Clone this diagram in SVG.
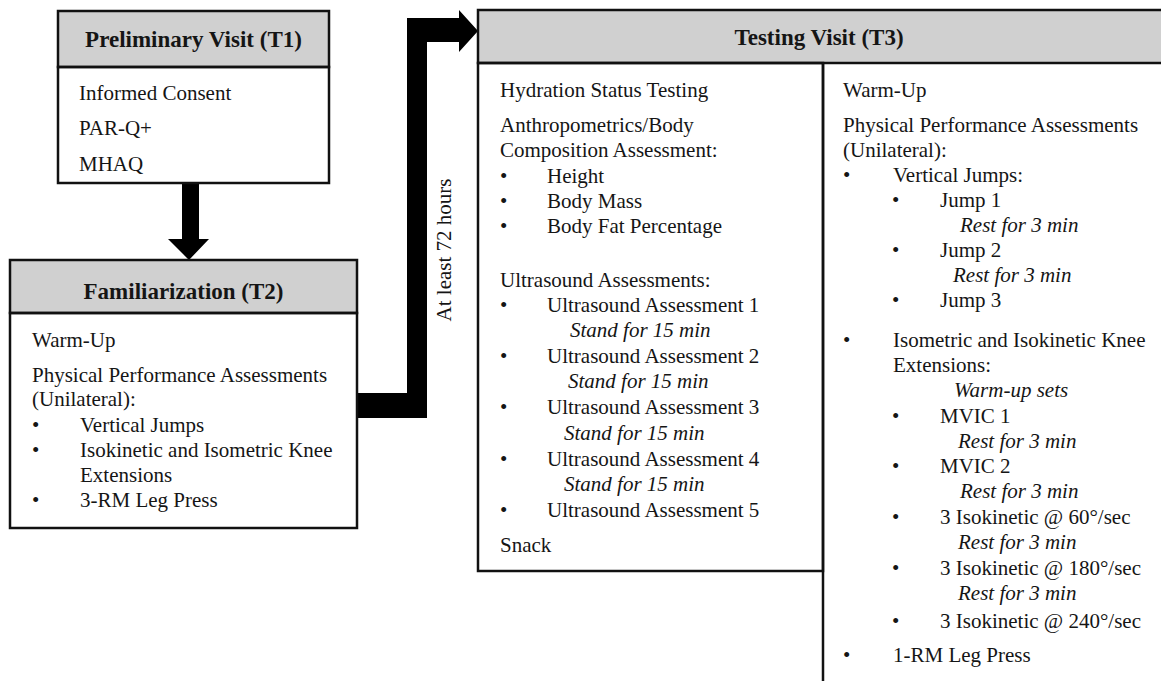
<svg xmlns="http://www.w3.org/2000/svg" width="1161" height="681" viewBox="0 0 1161 681">
<style>
.t{font-family:"Liberation Serif","Times New Roman",serif;font-size:21px;fill:#151515}
.i{font-style:italic}
.h{font-family:"Liberation Serif","Times New Roman",serif;font-size:23px;font-weight:bold;fill:#151515;text-anchor:middle}
.hd{fill:#d0d0d0;stroke:#111;stroke-width:2.5}
.bx{fill:none;stroke:#111;stroke-width:2.5}
.ln{stroke:#111;stroke-width:2.5;fill:none}
.arr{fill:#000;stroke:none}
</style>
<rect width="1161" height="681" fill="#fff"/>

<g id="connectors">
  <path class="arr" d="M182,183 L199,183 L199,239 L209,239 L189,260 L168,239 L182,239 Z"/>
  <path class="arr" d="M356,393 L407,393 L407,18 L459,18 L459,10 L478,31 L459,52 L459,42 L427,42 L427,418 L356,418 Z"/>
  <text class="t" font-size="21.5" transform="translate(451,250) rotate(-90)" text-anchor="middle">At least 72 hours</text>
</g>

<g id="t1">
  <rect class="hd" x="58" y="11" width="271" height="56"/>
  <rect class="bx" x="58" y="67" width="271" height="116"/>
  <text class="h" x="193.5" y="47">Preliminary Visit (T1)</text>
  <text class="t" x="79" y="100">Informed Consent</text>
  <text class="t" x="79" y="135">PAR-Q+</text>
  <text class="t" x="79" y="171">MHAQ</text>
</g>

<g id="t2">
  <rect class="hd" x="10" y="260" width="347" height="53"/>
  <rect class="bx" x="10" y="313" width="347" height="215"/>
  <text class="h" x="183.5" y="299">Familiarization (T2)</text>
  <text class="t" x="32" y="347">Warm-Up</text>
  <text class="t" x="32" y="382">Physical Performance Assessments</text>
  <text class="t" x="32" y="406">(Unilateral):</text>
  <text class="t" x="32" y="432">•</text><text class="t" x="80" y="432">Vertical Jumps</text>
  <text class="t" x="32" y="457">•</text><text class="t" x="80" y="457">Isokinetic and Isometric Knee</text>
  <text class="t" x="80" y="482">Extensions</text>
  <text class="t" x="32" y="507">•</text><text class="t" x="80" y="507">3-RM Leg Press</text>
</g>

<g id="t3">
  <rect class="hd" x="478" y="10" width="686" height="53"/>
  <rect class="bx" x="478" y="63" width="345" height="508"/>
  <line class="ln" x1="823" y1="63" x2="823" y2="684"/>
  <text class="h" x="819" y="45">Testing Visit (T3)</text>

  <text class="t" x="500" y="97">Hydration Status Testing</text>
  <text class="t" x="500" y="132">Anthropometrics/Body</text>
  <text class="t" x="500" y="157">Composition Assessment:</text>
  <text class="t" x="500" y="183">•</text><text class="t" x="547" y="183">Height</text>
  <text class="t" x="500" y="208">•</text><text class="t" x="547" y="208">Body Mass</text>
  <text class="t" x="500" y="233">•</text><text class="t" x="547" y="233">Body Fat Percentage</text>
  <text class="t" x="500" y="287">Ultrasound Assessments:</text>
  <text class="t" x="500" y="312">•</text><text class="t" x="547" y="312">Ultrasound Assessment 1</text>
  <text class="t i" x="570" y="337">Stand for 15 min</text>
  <text class="t" x="500" y="363">•</text><text class="t" x="547" y="363">Ultrasound Assessment 2</text>
  <text class="t i" x="568" y="388">Stand for 15 min</text>
  <text class="t" x="500" y="414">•</text><text class="t" x="547" y="414">Ultrasound Assessment 3</text>
  <text class="t i" x="564" y="440">Stand for 15 min</text>
  <text class="t" x="500" y="466">•</text><text class="t" x="547" y="466">Ultrasound Assessment 4</text>
  <text class="t i" x="564" y="491">Stand for 15 min</text>
  <text class="t" x="500" y="517">•</text><text class="t" x="547" y="517">Ultrasound Assessment 5</text>
  <text class="t" x="500" y="552">Snack</text>

  <text class="t" x="843" y="97">Warm-Up</text>
  <text class="t" x="843" y="132">Physical Performance Assessments</text>
  <text class="t" x="843" y="157">(Unilateral):</text>
  <text class="t" x="843" y="182">•</text><text class="t" x="893" y="182">Vertical Jumps:</text>
  <text class="t" x="892" y="207">•</text><text class="t" x="940" y="207">Jump 1</text>
  <text class="t i" x="960" y="232">Rest for 3 min</text>
  <text class="t" x="892" y="257">•</text><text class="t" x="940" y="257">Jump 2</text>
  <text class="t i" x="953" y="282">Rest for 3 min</text>
  <text class="t" x="892" y="307">•</text><text class="t" x="940" y="307">Jump 3</text>
  <text class="t" x="843" y="347">•</text><text class="t" x="893" y="347">Isometric and Isokinetic Knee</text>
  <text class="t" x="893" y="372">Extensions:</text>
  <text class="t i" x="954" y="397">Warm-up sets</text>
  <text class="t" x="892" y="423">•</text><text class="t" x="940" y="423">MVIC 1</text>
  <text class="t i" x="958" y="448">Rest for 3 min</text>
  <text class="t" x="892" y="473">•</text><text class="t" x="940" y="473">MVIC 2</text>
  <text class="t i" x="960" y="498">Rest for 3 min</text>
  <text class="t" x="892" y="524">•</text><text class="t" x="940" y="524">3 Isokinetic @ 60°/sec</text>
  <text class="t i" x="958" y="549">Rest for 3 min</text>
  <text class="t" x="892" y="575">•</text><text class="t" x="940" y="575">3 Isokinetic @ 180°/sec</text>
  <text class="t i" x="958" y="600">Rest for 3 min</text>
  <text class="t" x="892" y="628">•</text><text class="t" x="940" y="628">3 Isokinetic @ 240°/sec</text>
  <text class="t" x="843" y="662">•</text><text class="t" x="893" y="662">1-RM Leg Press</text>
</g>
</svg>
